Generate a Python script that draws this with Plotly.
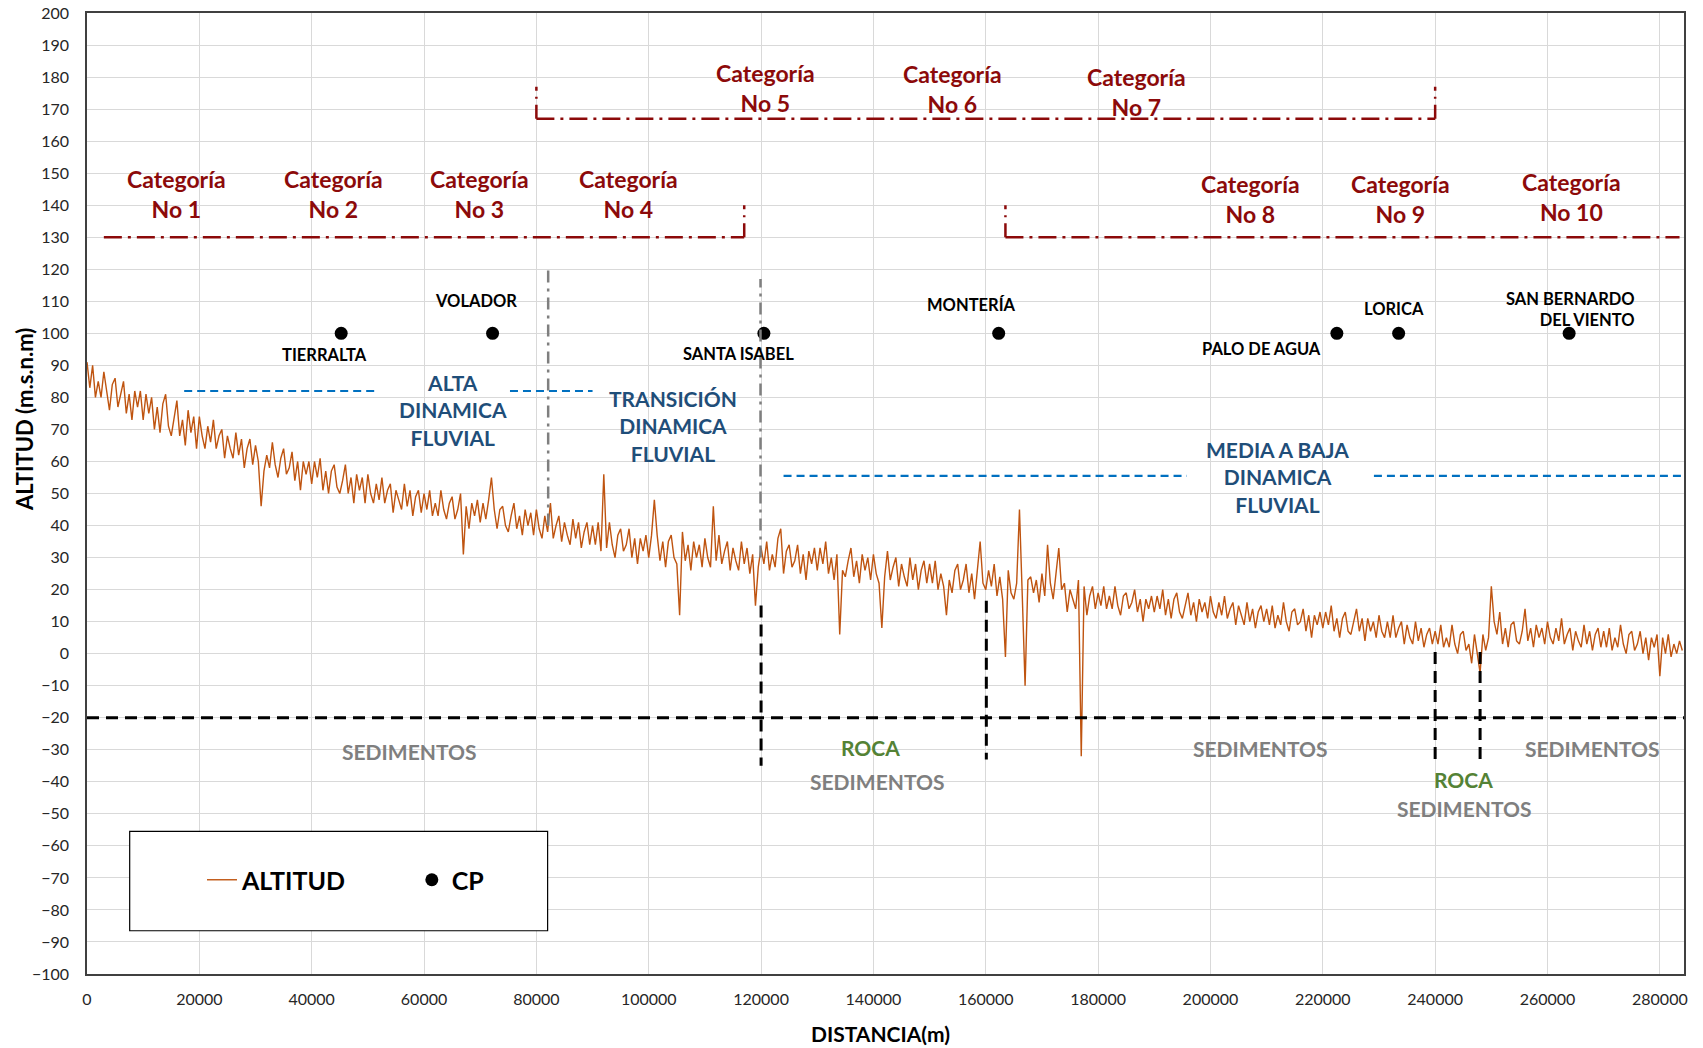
import plotly.graph_objects as go

# ---------------- data ----------------
distancia = list(range(0, 284500, 500))  # sampling positions along the river (m)
altitud = [
    # 0 - 9500
    91, 83, 90, 80, 85, 80, 88, 82, 76, 84, 86, 77, 81, 85, 75, 81, 73, 82, 77, 82,
    # 10000 - 19500
    73, 81, 75, 80, 70, 77, 69, 78, 81, 71, 68, 74, 79, 68, 73, 65, 76, 69, 74, 64,
    # 20000 - 29500
    74, 68, 64, 71, 66, 73, 64, 68, 70, 61, 68, 64, 61, 69, 62, 67, 58, 64, 67, 59,
    # 30000 - 39500
    65, 60, 46, 57, 62, 58, 66, 59, 55, 61, 64, 56, 58, 63, 54, 60, 51, 60, 56, 60,
    # 40000 - 49500
    53, 60, 55, 61, 51, 57, 50, 57, 59, 52, 50, 54, 59, 50, 55, 47, 56, 51, 55, 47,
    # 50000 - 59500
    56, 50, 47, 53, 48, 55, 47, 51, 53, 44, 51, 48, 45, 53, 46, 51, 43, 49, 51, 44,
    # 60000 - 69500
    50, 45, 51, 43, 47, 43, 51, 45, 42, 47, 49, 42, 45, 50, 31, 46, 39, 47, 43, 48,
    # 70000 - 79500
    41, 47, 42, 48, 55, 45, 39, 45, 46, 40, 38, 43, 47, 39, 43, 37, 45, 40, 44, 37,
    # 80000 - 89500
    45, 39, 36, 43, 38, 47, 36, 40, 43, 35, 41, 37, 34, 42, 36, 41, 33, 38, 41, 34,
    # 90000 - 99500
    40, 34, 41, 32, 56, 33, 41, 34, 30, 37, 39, 32, 34, 39, 30, 36, 28, 36, 32, 37,
    # 100000 - 109500
    30, 37, 48, 37, 29, 35, 27, 35, 37, 30, 28, 12, 38, 29, 34, 26, 35, 30, 34, 27,
    # 110000 - 119500
    36, 30, 27, 46, 29, 37, 28, 32, 35, 26, 33, 29, 26, 35, 28, 33, 25, 31, 15, 27,
    # 120000 - 129500
    33, 28, 35, 26, 31, 27, 36, 39, 25, 32, 34, 27, 29, 34, 25, 31, 23, 32, 28, 33,
    # 130000 - 139500
    26, 33, 28, 35, 25, 30, 23, 31, 6, 26, 24, 29, 33, 24, 29, 22, 31, 26, 30, 23,
    # 140000 - 149500
    31, 25, 22, 8, 24, 32, 23, 27, 30, 21, 28, 24, 21, 30, 23, 28, 20, 26, 29, 22,
    # 150000 - 159500
    28, 22, 29, 20, 25, 21, 12, 23, 19, 26, 28, 20, 23, 28, 19, 25, 17, 26, 35, 22,
    # 160000 - 169500
    20, 26, 21, 28, 18, 24, 17, -1, 26, 19, 17, 22, 45, 18, -10, 23, 24, 19, 23, 16,
    # 170000 - 179500
    25, 18, 34, 22, 17, 25, 33, 20, 22, 13, 20, 17, 14, 23, -32, 21, 12, 18, 21, 14,
    # 180000 - 189500
    19, 15, 21, 14, 18, 14, 21, 15, 12, 18, 19, 14, 16, 20, 13, 17, 10, 17, 14, 18,
    # 190000 - 199500
    13, 18, 14, 20, 12, 17, 11, 17, 19, 13, 11, 15, 19, 12, 16, 10, 17, 13, 16, 11,
    # 200000 - 209500
    18, 13, 11, 16, 12, 18, 11, 14, 16, 9, 15, 12, 9, 16, 10, 14, 8, 13, 15, 10,
    # 210000 - 219500
    14, 9, 15, 8, 12, 9, 16, 10, 7, 13, 14, 9, 10, 14, 7, 12, 5, 12, 9, 13,
    # 220000 - 229500
    8, 13, 9, 15, 7, 11, 5, 11, 13, 7, 6, 10, 14, 7, 11, 4, 11, 7, 10, 5,
    # 230000 - 239500
    12, 7, 5, 10, 5, 12, 5, 8, 10, 3, 9, 5, 3, 10, 4, 8, 2, 6, 8, 3,
    # 240000 - 249500
    7, 3, 9, 2, 5, 2, 9, 3, 0, 6, 7, 1, 3, -3, 6, 0, -6, 6, 1, 5,
    # 250000 - 259500
    21, 10, 6, 13, 3, 8, 2, 9, 10, 4, 3, 7, 14, 4, 8, 2, 9, 5, 8, 3,
    # 260000 - 269500
    10, 5, 3, 8, 4, 11, 3, 6, 8, 1, 7, 4, 2, 9, 3, 7, 1, 6, 8, 2,
    # 270000 - 279500
    7, 2, 8, 1, 5, 2, 9, 3, 0, 6, 7, 1, 3, 7, 0, 5, -2, 5, 2, 6,
    # 280000 - 284000
    -7, 5, 0, 6, -1, 3, 0, 4, 1,
]

cp_nombres = ["TIERRALTA", "VOLADOR", "SANTA ISABEL", "MONTERÍA",
              "PALO DE AGUA", "LORICA", "SAN BERNARDO<br>DEL VIENTO"]
cp_x = [45250, 72200, 120500, 162300, 222500, 233500, 263850]
cp_y = [100, 100, 100, 100, 100, 100, 100]
cp_label_x = [42350, 69200, 116000, 157400, 209100, 232600, 275960]
cp_label_y = [93.3, 110.1, 93.6, 108.9, 95.1, 107.5, 107.3]

cat_textos = ["Categoría<br>No 1", "Categoría<br>No 2", "Categoría<br>No 3", "Categoría<br>No 4",
              "Categoría<br>No 5", "Categoría<br>No 6", "Categoría<br>No 7",
              "Categoría<br>No 8", "Categoría<br>No 9", "Categoría<br>No 10"]
cat_x = [15970, 43900, 69840, 96350, 120700, 154050, 186830, 207120, 233850, 264200]
cat_y = [143.5, 143.5, 143.5, 143.5, 176.5, 176.2, 175.4, 141.9, 141.9, 142.5]
# category bracket lines: (x0, x1, y)
cat_h = [(3000, 117000, 130), (80000, 240000, 167), (163500, 283500, 130)]
# bracket end ticks: (x, y0, y1)
cat_v = [(117000, 130, 140), (80000, 167, 177), (240000, 167, 177), (163500, 130, 140)]

zona_textos = ["ALTA<br>DINAMICA<br>FLUVIAL", "TRANSICIÓN<br>DINAMICA<br>FLUVIAL",
               "MEDIA A BAJA<br>DINAMICA<br>FLUVIAL"]
zona_x = [65100, 104400, 211900]
zona_y = [76, 71.1, 55.1]
zona_h = [(17300, 51900, 82), (75300, 90000, 82), (124000, 195800, 55.5), (229100, 284300, 55.5)]
zona_v = [(82100, 40, 120), (119900, 30, 117)]

contacto_y = -20
contacto_v = [(120000, 15, -35), (160100, 16.5, -33), (240000, 0.5, -34), (248000, 0.5, -33)]
sed_x = [57300, 140700, 208760, 245100, 268000]
sed_y = [-30.5, -39.9, -29.7, -48.2, -29.7]
roca_x = [139400, 245000]
roca_y = [-29.2, -39.2]

x_max = 284300

# ---------------- figure ----------------
FONT = "Lato"
fig = go.Figure()

fig.add_trace(go.Scatter(
    x=distancia, y=altitud, mode="lines", name="<b>ALTITUD</b>",
    line=dict(color="#BF5410", width=1.4), legend="legend", showlegend=True,
))
fig.add_trace(go.Scatter(
    x=cp_x, y=cp_y, mode="markers", name="<b>CP</b>",
    marker=dict(color="black", size=13), legend="legend2", showlegend=True,
))

shapes = []
RED = "#8C0A0A"
for x0, x1, y in cat_h:
    shapes.append(dict(type="line", xref="x", yref="y", x0=x0, x1=x1, y0=y, y1=y,
                       line=dict(color=RED, width=2.5, dash="18px,6px,3px,6px")))
for x, y0, y1 in cat_v:
    shapes.append(dict(type="line", xref="x", yref="y", x0=x, x1=x, y0=y0, y1=y1,
                       line=dict(color=RED, width=2.5, dash="14px,6px,2px,6px")))
for x0, x1, y in zona_h:
    shapes.append(dict(type="line", xref="x", yref="y", x0=x0, x1=x1, y0=y, y1=y,
                       line=dict(color="#0070C0", width=2.2, dash="8px,5px")))
for x, y0, y1 in zona_v:
    shapes.append(dict(type="line", xref="x", yref="y", x0=x, x1=x, y0=y0, y1=y1,
                       line=dict(color="#7F7F7F", width=2.5, dash="12px,6px,3px,6px")))
shapes.append(dict(type="line", xref="x", yref="y", x0=0, x1=x_max, y0=contacto_y, y1=contacto_y,
                   line=dict(color="black", width=3, dash="12px,7px")))
for x, y0, y1 in contacto_v:
    shapes.append(dict(type="line", xref="x", yref="y", x0=x, x1=x, y0=y0, y1=y1,
                       line=dict(color="black", width=3, dash="12px,7px")))
# legend frame
shapes.append(dict(type="rect", xref="x", yref="y", x0=7600, x1=82000, y0=-86.5, y1=-55.5,
                   line=dict(color="black", width=1.2), fillcolor="white", layer="above"))

ann = []
for t, x, y in zip(cat_textos, cat_x, cat_y):
    ann.append(dict(x=x, y=y, xref="x", yref="y", text="<b>%s</b>" % t, showarrow=False,
                    font=dict(family=FONT, size=23, color=RED)))
for t, lx, ly in zip(cp_nombres, cp_label_x, cp_label_y):
    right = "<br>" in t
    ann.append(dict(x=lx, y=ly, xref="x", yref="y", text="<b>%s</b>" % t, showarrow=False,
                    xanchor="right" if right else "center", align="right" if right else "center",
                    font=dict(family=FONT, size=16.5, color="black")))
for t, x, y in zip(zona_textos, zona_x, zona_y):
    ann.append(dict(x=x, y=y, xref="x", yref="y", text="<b>%s</b>" % t, showarrow=False,
                    font=dict(family=FONT, size=21, color="#1F4E79")))
for x, y in zip(sed_x, sed_y):
    ann.append(dict(x=x, y=y, xref="x", yref="y", text="<b>SEDIMENTOS</b>", showarrow=False,
                    font=dict(family=FONT, size=21, color="#7F7F7F")))
for x, y in zip(roca_x, roca_y):
    ann.append(dict(x=x, y=y, xref="x", yref="y", text="<b>ROCA</b>", showarrow=False,
                    font=dict(family=FONT, size=21, color="#548235")))
# axis titles
ann.append(dict(x=-0.0388, y=0.5765, xref="paper", yref="paper", text="<b>ALTITUD (m.s.n.m)</b>",
                textangle=-90, showarrow=False, xanchor="center", yanchor="middle",
                font=dict(family=FONT, size=22, color="black")))
ann.append(dict(x=0.497, y=-0.0614, xref="paper", yref="paper", text="<b>DISTANCIA(m)</b>",
                showarrow=False, xanchor="center", yanchor="middle",
                font=dict(family=FONT, size=21, color="black")))

fig.update_layout(
    width=1703, height=1048,
    margin=dict(l=87, r=19, t=13, b=74, autoexpand=False),
    paper_bgcolor="white", plot_bgcolor="white",
    shapes=shapes, annotations=ann, showlegend=True,
    legend=dict(x=0.072, y=0.0978, xanchor="left", yanchor="middle", orientation="h",
                bgcolor="rgba(0,0,0,0)", font=dict(family=FONT, size=25, color="black")),
    legend2=dict(x=0.2034, y=0.0978, xanchor="left", yanchor="middle", orientation="h",
                 bgcolor="rgba(0,0,0,0)", font=dict(family=FONT, size=25, color="black")),
    xaxis=dict(range=[0, x_max], tick0=0, dtick=20000, tickformat="d", automargin=False,
               showgrid=True, gridcolor="#D9D9D9", gridwidth=1, zeroline=False,
               showline=True, linecolor="#404040", linewidth=1.5, mirror=True,
               ticks="outside", ticklen=10, tickcolor="rgba(0,0,0,0)",
               tickfont=dict(family=FONT, size=16, color="#262626")),
    yaxis=dict(range=[-100, 200], tick0=-100, dtick=10, automargin=False,
               showgrid=True, gridcolor="#D9D9D9", gridwidth=1, zeroline=False,
               showline=True, linecolor="#404040", linewidth=1.5, mirror=True,
               ticks="outside", ticklen=13, tickcolor="rgba(0,0,0,0)",
               tickfont=dict(family=FONT, size=16, color="#262626")),
)

fig.write_html("out.html", config={"displayModeBar": False},
               post_script="document.body.style.margin='0';document.body.style.overflow='hidden';")
